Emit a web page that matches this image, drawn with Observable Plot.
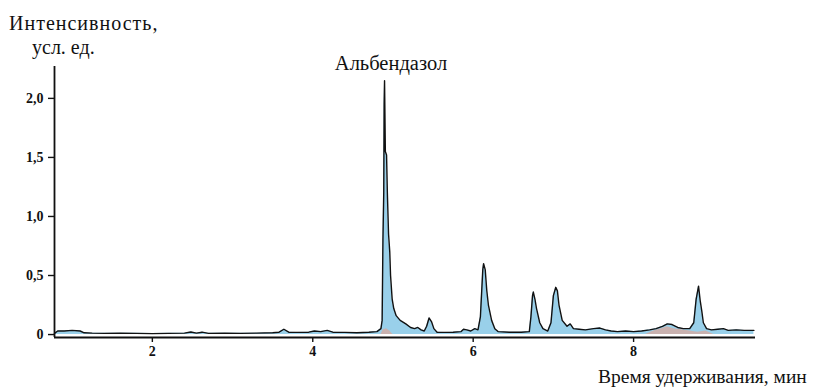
<!DOCTYPE html>
<html>
<head>
<meta charset="utf-8">
<script src="https://cdn.jsdelivr.net/npm/d3@7"></script>
<script src="https://cdn.jsdelivr.net/npm/@observablehq/plot@0.6"></script>
<style>
  html, body { margin: 0; padding: 0; background: #fff; }
  #chart { width: 818px; height: 387px; }
  #chart svg text { font-family: 'Liberation Serif', 'Times New Roman', serif; }
</style>
</head>
<body>
<div id="chart"></div>
<script>
// Retention time, min
const times = [0.78,0.82,0.90,1.00,1.10,1.15,1.25,1.40,1.60,1.80,2.00,2.20,2.40,2.48,2.55,2.62,2.70,2.90,3.10,3.30,3.50,3.58,3.64,3.70,3.80,3.95,4.02,4.10,4.18,4.25,4.40,4.55,4.70,4.80,4.85,4.865,4.875,4.885,4.89,4.895,4.905,4.92,4.93,4.945,4.96,4.97,4.99,5.01,5.04,5.09,5.16,5.22,5.27,5.31,5.35,5.39,5.42,5.45,5.48,5.51,5.55,5.65,5.75,5.85,5.88,5.92,5.97,6.02,6.06,6.09,6.12,6.13,6.15,6.17,6.19,6.23,6.27,6.31,6.45,6.60,6.70,6.72,6.74,6.75,6.77,6.79,6.83,6.87,6.93,6.97,7.00,7.03,7.05,7.07,7.11,7.17,7.21,7.25,7.32,7.40,7.50,7.58,7.65,7.72,7.80,7.90,8.00,8.10,8.20,8.28,8.36,8.42,8.48,8.55,8.62,8.70,8.75,8.78,8.81,8.83,8.85,8.87,8.91,8.97,9.05,9.12,9.18,9.28,9.38,9.50];
// Intensity, arb. units
const intensity = [0.01,0.03,0.03,0.035,0.03,0.015,0.012,0.01,0.012,0.01,0.008,0.01,0.012,0.022,0.012,0.02,0.01,0.012,0.01,0.012,0.015,0.02,0.045,0.02,0.018,0.02,0.03,0.025,0.035,0.02,0.018,0.015,0.02,0.025,0.05,0.12,0.8,1.2,1.95,2.15,1.55,1.52,1.2,0.85,0.7,0.5,0.3,0.22,0.16,0.12,0.09,0.06,0.05,0.06,0.04,0.03,0.07,0.14,0.11,0.05,0.02,0.018,0.02,0.025,0.045,0.04,0.03,0.05,0.04,0.15,0.55,0.60,0.55,0.37,0.25,0.12,0.05,0.025,0.02,0.02,0.025,0.15,0.33,0.36,0.3,0.22,0.1,0.05,0.03,0.1,0.33,0.40,0.37,0.25,0.12,0.07,0.09,0.05,0.045,0.04,0.05,0.055,0.04,0.03,0.025,0.03,0.025,0.03,0.04,0.05,0.07,0.09,0.085,0.06,0.05,0.05,0.1,0.3,0.41,0.29,0.2,0.1,0.05,0.04,0.045,0.05,0.035,0.04,0.035,0.035];

// Minor (reddish) component
const minorSeg = ["a","a","a","a","a","b","b","b","b","b","b","b","b","b","b"];
const minorTimes = [4.85,4.88,4.92,4.96,5.00,8.15,8.25,8.35,8.42,8.50,8.60,8.70,8.80,8.90,9.00];
const minorValues = [0,0.04,0.05,0.03,0,0,0.03,0.05,0.065,0.05,0.04,0.03,0.02,0.03,0];

const yTicks = [0,0.5,1,1.5,2];
const xTicks = [2,4,6,8];

const serif = "'Liberation Serif', 'Times New Roman', serif";
const trace = times.map((t,i) => ({t, v: intensity[i]}));
const minor = minorTimes.map((t,i) => ({t, v: minorValues[i], seg: minorSeg[i]}));

const plot = Plot.plot({
  width: 818,
  height: 387,
  marginLeft: 54,
  marginRight: 63,
  marginTop: 66,
  marginBottom: 50,
  style: {fontFamily: serif, background: "#fff", color: "#111"},
  x: {domain: [0.78, 9.52]},
  y: {domain: [-0.025, 2.27]},
  marks: [
    Plot.areaY(trace, {x: "t", y: "v", fill: "#8ecbe8", fillOpacity: 0.9}),
    Plot.areaY(minor, {x: "t", y: "v", z: "seg", fill: "#d9a89c", fillOpacity: 0.75}),
    Plot.lineY(trace, {x: "t", y: "v", stroke: "#111", strokeWidth: 1.4}),
    Plot.ruleX([0.78], {stroke: "#111", strokeWidth: 1.8}),
    Plot.ruleY([-0.025], {stroke: "#111", strokeWidth: 1.8}),
    Plot.axisY({ticks: yTicks, tickFormat: d => d === 0 ? "0" : d.toFixed(1).replace(".", ","), tickSize: 6, tickPadding: 5, fontSize: 14, fontWeight: "bold", fontFamily: serif, strokeWidth: 1.4, label: null}),
    Plot.axisX({ticks: xTicks, tickFormat: d => String(d), tickSize: 5, tickPadding: 4, fontSize: 14, fontWeight: "bold", fontFamily: serif, strokeWidth: 1.4, label: null})
  ]
});

const svg = d3.select(plot);
const addText = (x, y, s, size, anchor, spacing) => svg.append("text")
  .attr("x", x).attr("y", y)
  .attr("font-family", serif)
  .attr("font-size", size)
  .attr("fill", "#111")
  .attr("letter-spacing", spacing || 0)
  .attr("text-anchor", anchor || "start")
  .text(s);
addText(9, 30, "Интенсивность,", 20, "start", 1);
addText(32, 54, "усл. ед.", 20);
addText(391, 70, "Альбендазол", 20.5, "middle");
addText(598, 383, "Время удерживания, мин", 19.5);

document.getElementById("chart").appendChild(plot);
</script>
</body>
</html>
